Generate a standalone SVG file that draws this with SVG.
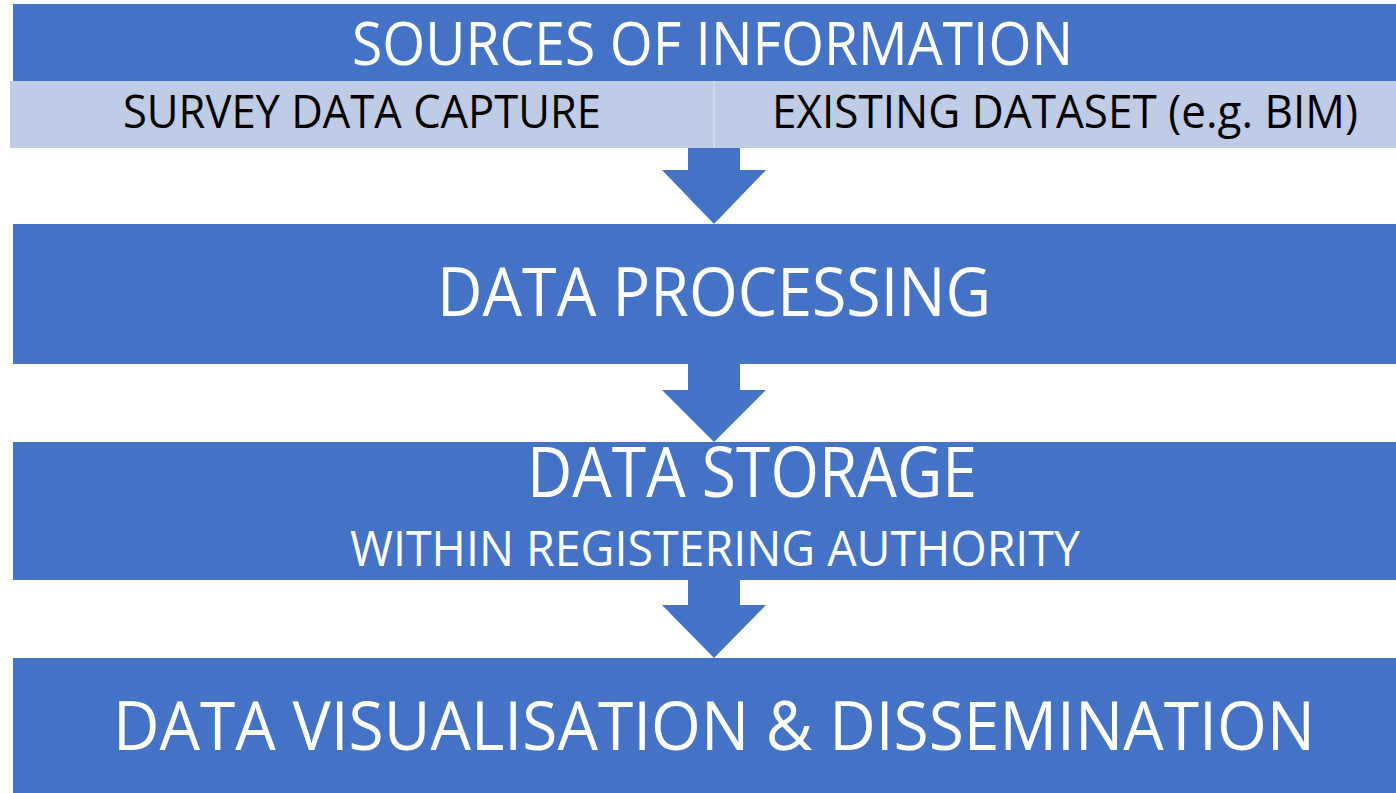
<svg xmlns="http://www.w3.org/2000/svg" width="1396" height="793" viewBox="0 0 1396 793">
<style>
.box{fill:#4472C4}
.light{fill:#C0CBE5}
.arrow{fill:#4472C4}
.wt{fill:#FFFFFF;font-family:"Open Sans","Liberation Sans",sans-serif;text-anchor:middle}
.bt{fill:#000000;font-family:"Open Sans","Liberation Sans",sans-serif;text-anchor:middle}
</style>
<rect width="1396" height="793" fill="#FFFFFF"/>
<g id="connectors">
<polygon class="arrow" points="688,148 740,148 740,170 766,170 714,224 662,170 688,170"/>
<polygon class="arrow" points="688,364 740,364 740,390 766,390 714,442 662,390 688,390"/>
<polygon class="arrow" points="688,580 740,580 740,605 766,605 714,658 662,605 688,605"/>
</g>
<g id="sources">
<rect class="box" x="13" y="4" width="1383" height="77"/>
<text class="wt" x="712.5" y="65" font-size="60" textLength="721" lengthAdjust="spacingAndGlyphs">SOURCES OF INFORMATION</text>
</g>
<g id="survey">
<rect class="light" x="10" y="81" width="704" height="67"/>
<text class="bt" x="362" y="128" font-size="45" textLength="478" lengthAdjust="spacingAndGlyphs">SURVEY DATA CAPTURE</text>
</g>
<g id="existing">
<rect class="light" x="714" y="81" width="682" height="67"/>
<line x1="714" y1="81" x2="714" y2="148" stroke="#D3DAEE" stroke-width="2"/>
<text class="bt" x="1065" y="128" font-size="45" textLength="586" lengthAdjust="spacingAndGlyphs">EXISTING DATASET (e.g. BIM)</text>
</g>
<g id="processing">
<rect class="box" x="13" y="224" width="1383" height="140"/>
<text class="wt" x="714" y="316" font-size="67" textLength="554" lengthAdjust="spacingAndGlyphs">DATA PROCESSING</text>
</g>
<g id="storage">
<rect class="box" x="13" y="442" width="1383" height="138"/>
<text class="wt" x="752" y="497" font-size="70" textLength="450" lengthAdjust="spacingAndGlyphs">DATA STORAGE</text>
<text class="wt" x="715" y="566" font-size="49" textLength="730" lengthAdjust="spacingAndGlyphs">WITHIN REGISTERING AUTHORITY</text>
</g>
<g id="visualisation">
<rect class="box" x="13" y="658" width="1383" height="135"/>
<text class="wt" x="714" y="750" font-size="68" textLength="1202" lengthAdjust="spacingAndGlyphs">DATA VISUALISATION &amp; DISSEMINATION</text>
</g>
</svg>
